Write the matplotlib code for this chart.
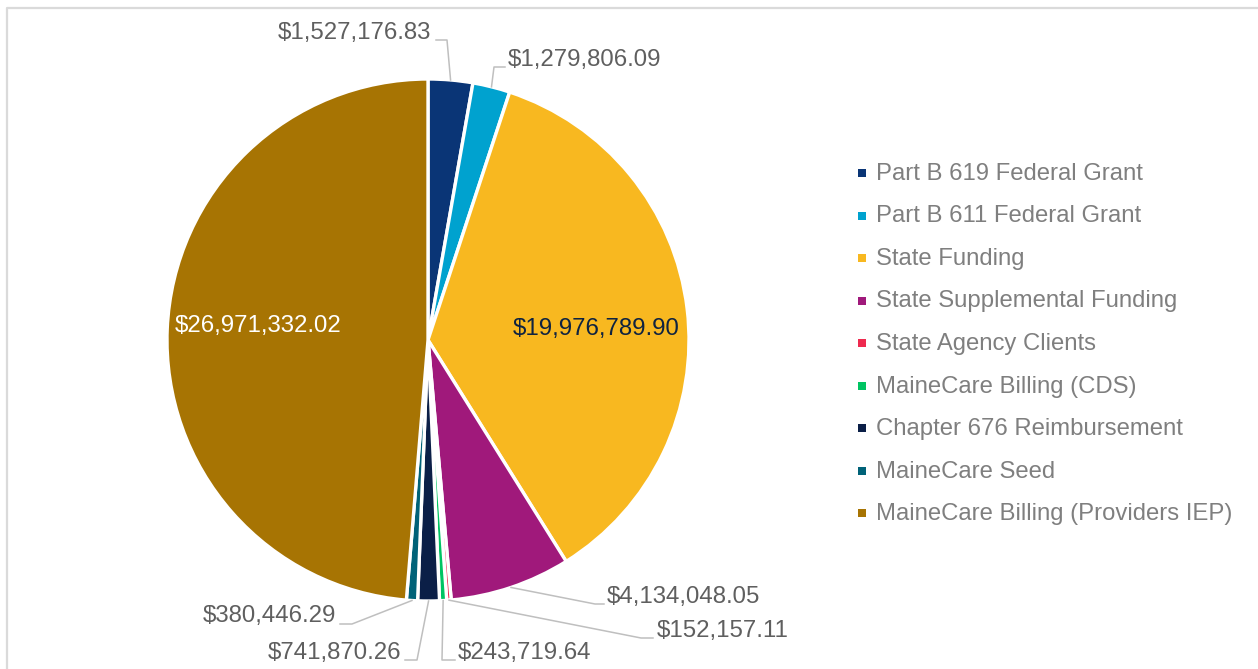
import numpy as np
import matplotlib
matplotlib.use("Agg")
import matplotlib.pyplot as plt

plt.rcParams['font.family'] = ['Liberation Sans', 'DejaVu Sans']

# funding sources and amounts
sources = [
    "Part B 619 Federal Grant",
    "Part B 611 Federal Grant",
    "State Funding",
    "State Supplemental Funding",
    "State Agency Clients",
    "MaineCare Billing (CDS)",
    "Chapter 676 Reimbursement",
    "MaineCare Seed",
    "MaineCare Billing (Providers IEP)",
]
amounts = [1527176.83, 1279806.09, 19976789.90, 4134048.05, 152157.11,
           243719.64, 741870.26, 380446.29, 26971332.02]
colors = ["#0A3576", "#00A2CF", "#F8B820", "#A0197B", "#EE2A4F",
          "#00C462", "#0B1F47", "#006278", "#A77403"]

W, H = 1258, 669
fig = plt.figure(figsize=(W / 100, H / 100), dpi=100)
ax = fig.add_axes([0, 0, 1, 1])

# light frame of the chart area
ax.plot([7, 7, W + 10], [-10, H - 8, H - 8], color="#DADADA", lw=1.6,
        solid_capstyle="butt")

cx, cy, r = 428, H - 340, 261
wedges, _ = ax.pie(amounts, colors=colors, startangle=90, counterclock=False,
                   center=(cx, cy), radius=r, frame=True,
                   wedgeprops=dict(edgecolor="white", linewidth=2.4))
ax.set_xlim(0, W)
ax.set_ylim(0, H)
ax.set_aspect("auto")
ax.axis("off")


def fmt(v):
    return "${:,.2f}".format(v)


# inside labels
ax.text(596, H - 329, fmt(amounts[2]), ha="center", va="center",
        fontsize=17.3, color="#0F2340")
ax.text(258, H - 326, fmt(amounts[8]), ha="center", va="center",
        fontsize=17.3, color="white")

# outside labels: index -> (text x, text y, ha, elbow points) in image pixels
outside = {
    0: (431, 33, "right", [(436, 40), (447, 40)]),
    1: (508, 60, "left", [(505, 67), (494, 67)]),
    3: (607, 597, "left", [(604, 604), (595, 604)]),
    4: (657, 631, "left", [(653, 638), (641, 638)]),
    5: (458, 653, "left", [(455, 660), (442, 660)]),
    6: (401, 653, "right", [(405, 660), (417, 660)]),
    7: (336, 616, "right", [(340, 624), (352, 624)]),
}
for i, (tx, ty, ha, pts) in outside.items():
    w = wedges[i]
    mid = np.deg2rad((w.theta1 + w.theta2) / 2)
    ex, ey = cx + r * np.cos(mid), cy + r * np.sin(mid)
    xs = [p[0] for p in pts] + [ex]
    ys = [H - p[1] for p in pts] + [ey]
    ax.plot(xs, ys, color="#BFBFBF", lw=1.1)
    ax.text(tx, H - ty, fmt(amounts[i]), ha=ha, va="center",
            fontsize=17.3, color="#5F5F5F")

# legend
for i, name in enumerate(sources):
    y = H - (173 + i * 42.5)
    ax.scatter([862], [y], marker="s", s=34, color=colors[i], linewidths=0)
    ax.text(876, y - 1, name, ha="left", va="center", fontsize=17.2,
            color="#7F7F7F")

fig.savefig("out.png", dpi=100)
